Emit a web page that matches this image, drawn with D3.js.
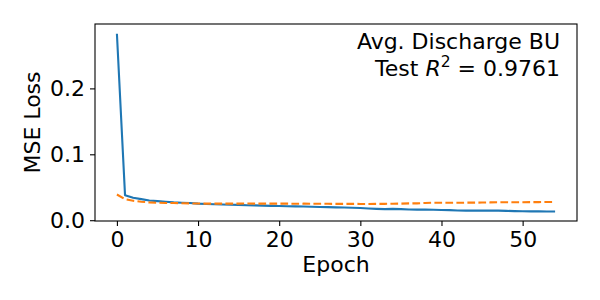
<!DOCTYPE html>
<html>
<head>
<meta charset="utf-8">
<script src="https://cdn.jsdelivr.net/npm/d3@7"></script>
<style>
  body { margin: 0; background: #fff; }
  svg text { font-family: "DejaVu Sans", sans-serif; fill: #000; }
</style>
</head>
<body>
<div class="chart"></div>
<script>
const epochs = d3.range(0, 55);
const trainLoss = [0.283, 0.038, 0.034, 0.032, 0.030, 0.029, 0.028, 0.027, 0.0265, 0.026,
  0.0252, 0.0247, 0.0242, 0.0238, 0.0235, 0.0232, 0.0228, 0.0225, 0.0221, 0.0218,
  0.0215, 0.0212, 0.021, 0.0207, 0.0204, 0.0201, 0.0198, 0.0195, 0.0192, 0.0188,
  0.0185, 0.0178, 0.0172, 0.0168, 0.0172, 0.0168, 0.0163, 0.0161, 0.016, 0.0158,
  0.0155, 0.0153, 0.0148, 0.0145, 0.0145, 0.0145, 0.0145, 0.0145, 0.0142, 0.0138,
  0.0135, 0.0134, 0.0134, 0.0133, 0.0133];
const valLoss = [0.039, 0.032, 0.0295, 0.028, 0.027, 0.0265, 0.026, 0.026, 0.0258, 0.0255,
  0.0253, 0.0252, 0.0251, 0.0252, 0.0251, 0.0252, 0.0253, 0.0252, 0.0251, 0.0252,
  0.0252, 0.0251, 0.025, 0.0251, 0.025, 0.0249, 0.0249, 0.0248, 0.0248, 0.0248,
  0.0247, 0.0247, 0.0248, 0.0248, 0.025, 0.0252, 0.0255, 0.0256, 0.0262, 0.0265,
  0.0265, 0.0264, 0.0265, 0.0266, 0.0267, 0.0268, 0.027, 0.0272, 0.0273, 0.0272,
  0.0273, 0.0274, 0.0275, 0.0276, 0.0277];
const xTicks = [0, 10, 20, 30, 40, 50];
const yTicks = [0.0, 0.1, 0.2];
const titleLine = 'Avg. Discharge BU';
const r2Value = '0.9761';

let w = 600, h = 300,
    mLeft = 95, mRight = 577, mTop = 24, mBottom = 221,
    fs = '22px';

const svg = d3.select('.chart')
              .append('svg')
              .attr('width', w)
              .attr('height', h);

const xScale = d3.scaleLinear()
                 .domain([-2.7, 56.7])
                 .range([mLeft, mRight]);

const yScale = d3.scaleLinear()
                 .domain([-0.0012, 0.2977])
                 .range([mBottom, mTop]);

const line = d3.line()
               .x((d, i) => xScale(epochs[i]))
               .y(d => yScale(d));

svg.append('path')
   .datum(trainLoss)
   .attr('d', line)
   .attr('fill', 'none')
   .attr('stroke', '#1f77b4')
   .attr('stroke-width', 2.1)
   .attr('stroke-linejoin', 'round');

svg.append('path')
   .datum(valLoss)
   .attr('d', line)
   .attr('fill', 'none')
   .attr('stroke', '#ff7f0e')
   .attr('stroke-width', 2.1)
   .attr('stroke-dasharray', '7.7,3.3');

const xAxis = d3.axisBottom(xScale)
                .tickValues(xTicks)
                .tickSize(5)
                .tickPadding(5)
                .tickFormat(d3.format('d'));

const yAxis = d3.axisLeft(yScale)
                .tickValues(yTicks)
                .tickSize(5)
                .tickPadding(5)
                .tickFormat(d3.format('.1f'));

const gx = svg.append('g')
   .attr('transform', `translate(0,${mBottom})`)
   .call(xAxis);
const gy = svg.append('g')
   .attr('transform', `translate(${mLeft},0)`)
   .call(yAxis);

[gx, gy].forEach(g => {
  g.select('.domain').remove();
  g.selectAll('line').attr('stroke', '#000').attr('stroke-width', 1.1);
  g.selectAll('text').style('font-size', fs).attr('fill', '#000');
});

// frame
svg.append('rect')
   .attr('x', mLeft).attr('y', mTop)
   .attr('width', mRight - mLeft).attr('height', mBottom - mTop)
   .attr('fill', 'none')
   .attr('stroke', '#000')
   .attr('stroke-width', 1.1);

svg.append('text')
   .attr('x', (mLeft + mRight) / 2)
   .attr('y', 272)
   .attr('text-anchor', 'middle')
   .style('font-size', fs)
   .text('Epoch');

svg.append('text')
   .attr('transform', `translate(40,${(mTop + mBottom) / 2}) rotate(-90)`)
   .attr('text-anchor', 'middle')
   .style('font-size', fs)
   .text('MSE Loss');

svg.append('text')
   .attr('x', 560)
   .attr('y', 49)
   .attr('text-anchor', 'end')
   .style('font-size', fs)
   .text(titleLine);

const r2 = svg.append('text')
   .attr('x', 560)
   .attr('y', 76)
   .attr('text-anchor', 'end')
   .style('font-size', fs);
r2.append('tspan').text('Test ');
r2.append('tspan').style('font-style', 'italic').text('R');
r2.append('tspan').attr('dy', -9).style('font-size', '15.5px').text('2');
r2.append('tspan').attr('dy', 9).text(' = ' + r2Value);
</script>
</body>
</html>
